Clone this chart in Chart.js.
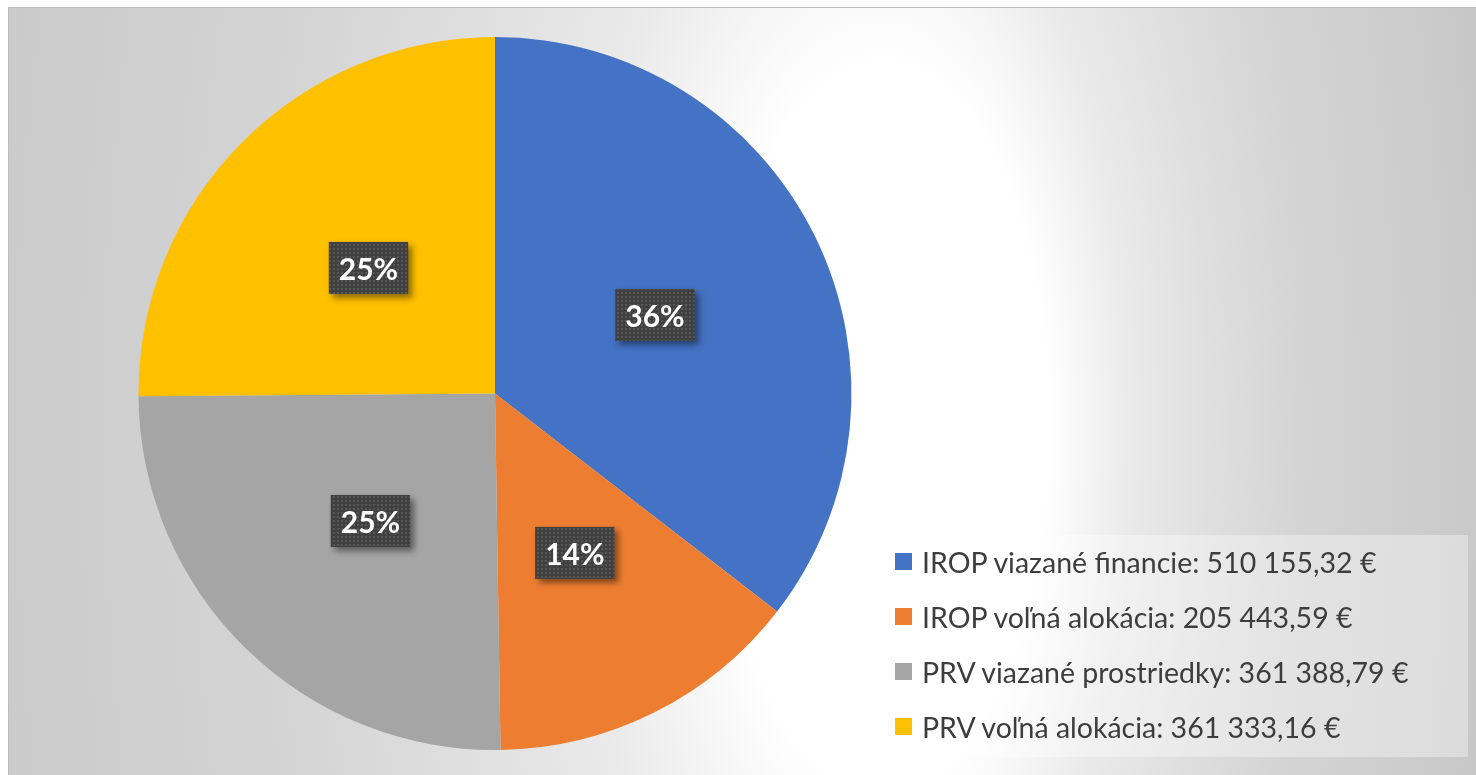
<!DOCTYPE html>
<html>
<head>
<meta charset="utf-8">
<script src="https://cdn.jsdelivr.net/npm/chart.js@4.4.1/dist/chart.umd.min.js"></script>
<style>
  body { margin: 0; background: #fff; }
  #frame {
    position: absolute; left: 8px; top: 7px; width: 1468px; height: 768px;
    overflow: hidden;
  }
  #frame::before {
    content: ''; position: absolute; left: 0; top: 0; right: 0; bottom: 0;
    border-top: 1px solid #bdbdbd; border-left: 1px solid #bdbdbd;
    pointer-events: none; z-index: 3;
  }
  #chartWrap { position: absolute; left: 0; top: 0; width: 1468px; height: 768px; }
  #legend {
    position: absolute; left: 830px; top: 528px; width: 630px; height: 222px;
    background: rgba(255,255,255,0.35); z-index: 2;
    font-family: Lato, "Liberation Sans", sans-serif; font-size: 28.5px; color: #3d3d3d;
  }
  .row { position: relative; height: 55px; line-height: 55px; white-space: nowrap; }
  .key { position: absolute; left: 57px; top: 18px; width: 17px; height: 17px; }
  .txt { position: absolute; left: 84px; top: 0; }
</style>
</head>
<body>
<div id="frame">
  <div id="chartWrap"><canvas id="myChart"></canvas></div>
  <div id="legend"></div>
</div>
<script>
var labels = ['IROP viazané financie', 'IROP voľná alokácia', 'PRV viazané prostriedky', 'PRV voľná alokácia'];
var values = [510155.32, 205443.59, 361388.79, 361333.16];
var valueTexts = ['510 155,32 €', '205 443,59 €', '361 388,79 €', '361 333,16 €'];
// percentages as printed on the slices
var pctTexts = ['36%', '14%', '25%', '25%'];
var colors = ['#4472C4', '#ED7D31', '#A5A5A5', '#FFC000'];

// legend
var legend = document.getElementById('legend');
labels.forEach(function(l, i) {
    var row = document.createElement('div');
    row.className = 'row';
    row.innerHTML = '<span class="key" style="background:' + colors[i] + '"></span>' +
        '<span class="txt">' + l + ': ' + valueTexts[i] + '</span>';
    legend.appendChild(row);
});

// soft gray background, lightest right of the pie
var backdrop = {
    id: 'backdrop',
    beforeDraw: function(chart) {
        var ctx = chart.ctx, w = chart.width, h = chart.height;
        var k = 2.2;
        var cy = 420 / k;
        ctx.save();
        ctx.scale(1, k);
        var g = ctx.createRadialGradient(922, cy, 0, 692, cy, 820);
        g.addColorStop(0, '#ffffff');
        g.addColorStop(0.2, '#ffffff');
        g.addColorStop(0.26, '#f6f6f6');
        g.addColorStop(0.34, '#eaeaea');
        g.addColorStop(0.475, '#dfdfdf');
        g.addColorStop(0.63, '#d4d4d4');
        g.addColorStop(0.88, '#cbcbcb');
        g.addColorStop(1, '#c4c4c4');
        ctx.fillStyle = g;
        ctx.fillRect(0, 0, w, h / k);
        ctx.restore();
    }
};

function dotPattern(ctx) {
    var c = document.createElement('canvas');
    c.width = 4; c.height = 4;
    var p = c.getContext('2d');
    p.fillStyle = '#404040';
    p.fillRect(0, 0, 4, 4);
    p.fillStyle = '#575757';
    p.fillRect(1, 1, 2, 2);
    return ctx.createPattern(c, 'repeat');
}

// percentage labels in dark boxes
var pctLabels = {
    id: 'pctLabels',
    afterDatasetsDraw: function(chart) {
        var ctx = chart.ctx;
        var meta = chart.getDatasetMeta(0);
        var pat = dotPattern(ctx);
        ctx.save();
        ctx.font = 'bold 30px Lato, "Liberation Sans", sans-serif';
        meta.data.forEach(function(arc, i) {
            var pos = arc.tooltipPosition();
            var txt = pctTexts[i];
            var tw = ctx.measureText(txt).width;
            var bw = tw + 20, bh = 52;
            ctx.shadowColor = 'rgba(0,0,0,0.45)';
            ctx.shadowBlur = 6;
            ctx.shadowOffsetX = 4;
            ctx.shadowOffsetY = 4;
            ctx.fillStyle = pat;
            ctx.fillRect(pos.x - bw / 2, pos.y - bh / 2, bw, bh);
            ctx.shadowColor = 'transparent';
            ctx.fillStyle = '#ffffff';
            ctx.textAlign = 'center';
            ctx.textBaseline = 'middle';
            ctx.fillText(txt, pos.x, pos.y + 2);
        });
        ctx.restore();
    }
};

var ctx = document.getElementById('myChart').getContext('2d');
var chart = new Chart(ctx, {
    type: 'pie',
    data: {
        labels: labels,
        datasets: [{
            data: values,
            backgroundColor: colors,
            borderWidth: 0,
            hoverOffset: 0,
            offset: 0
        }]
    },
    options: {
        responsive: true,
        maintainAspectRatio: false,
        animation: false,
        layout: { padding: { left: 130, right: 624, top: 30, bottom: 25 } },
        plugins: {
            legend: { display: false },
            tooltip: { enabled: false }
        }
    },
    plugins: [backdrop, pctLabels]
});
</script>
</body>
</html>
